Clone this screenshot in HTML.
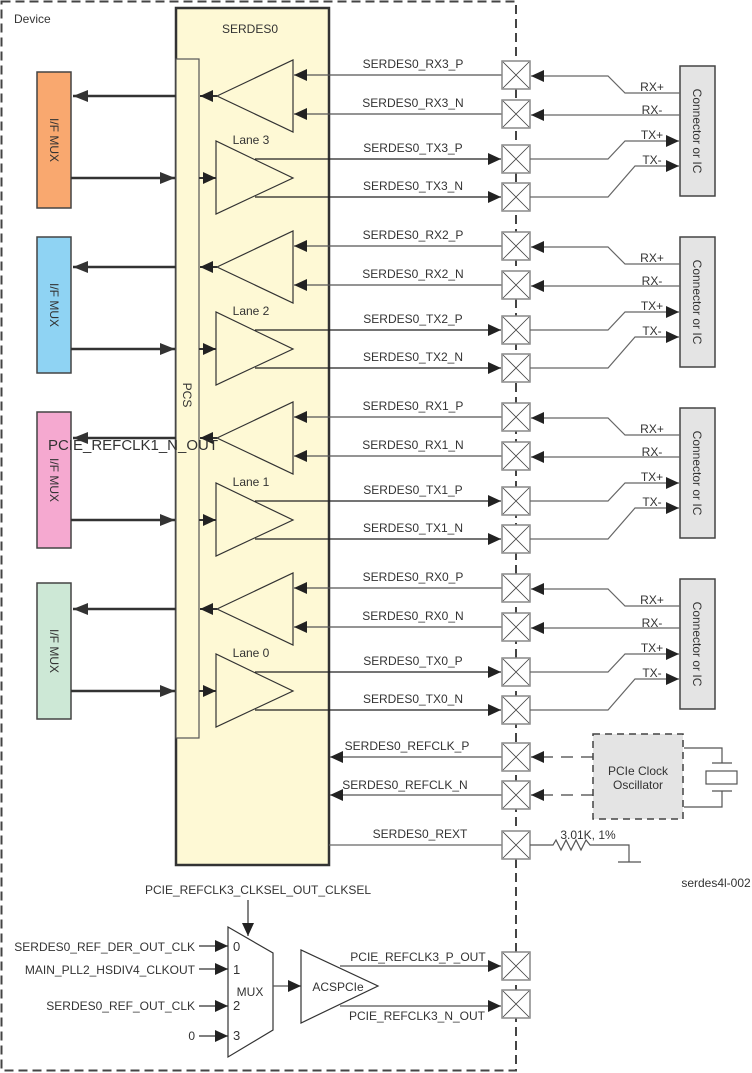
<!DOCTYPE html>
<html><head><meta charset="utf-8"><style>
html,body{margin:0;padding:0;background:#fff;}
svg{display:block;font-family:"Liberation Sans",sans-serif;}
</style></head><body>
<svg width="752" height="1073" viewBox="0 0 752 1073" xmlns="http://www.w3.org/2000/svg">
<defs>
<marker id="a" markerUnits="userSpaceOnUse" markerWidth="14" markerHeight="12" refX="13" refY="6" orient="auto"><path d="M0,0 L13,6 L0,12 z" fill="#222"/></marker>
<marker id="b" markerUnits="userSpaceOnUse" markerWidth="16" markerHeight="12" refX="15" refY="6" orient="auto"><path d="M0,0 L15,6 L0,12 z" fill="#333"/></marker>
<g id="pad"><rect x="-14" y="-14" width="28" height="28" fill="#fff" stroke="#888" stroke-width="1.5"/><path d="M-13,-13 L13,13 M13,-13 L-13,13" stroke="#444" stroke-width="0.8"/></g>
<g id="lane">
<line x1="176" y1="96" x2="73" y2="96" stroke="#333" stroke-width="2.5" marker-end="url(#b)"/>
<line x1="71" y1="178" x2="175" y2="178" stroke="#333" stroke-width="2.5" marker-end="url(#b)"/>
<line x1="217" y1="96" x2="200" y2="96" stroke="#333" stroke-width="2" marker-end="url(#a)"/>
<line x1="199" y1="178" x2="216" y2="178" stroke="#333" stroke-width="2" marker-end="url(#a)"/>
<polygon points="217,96 293,60 293,132" fill="#fef9d5" stroke="#333" stroke-width="1.2"/>
<polygon points="216,141 216,214 293,178" fill="#fef9d5" stroke="#333" stroke-width="1.2"/>
<line x1="502" y1="75" x2="294" y2="75" stroke="#555" stroke-width="1.2" marker-end="url(#a)"/>
<line x1="502" y1="114" x2="294" y2="114" stroke="#555" stroke-width="1.2" marker-end="url(#a)"/>
<line x1="255" y1="159" x2="501" y2="159" stroke="#222" stroke-width="1.2" marker-end="url(#a)"/>
<line x1="255" y1="197" x2="501" y2="197" stroke="#222" stroke-width="1.2" marker-end="url(#a)"/>
<use href="#pad" x="516" y="75"/><use href="#pad" x="516" y="114"/><use href="#pad" x="516" y="159"/><use href="#pad" x="516" y="197"/>
<rect x="680" y="66" width="35" height="130" fill="#e4e4e4" stroke="#444" stroke-width="1.5"/>
<polyline points="680,93 625,93 608,76 531,76" fill="none" stroke="#666" stroke-width="1.2" marker-end="url(#a)"/>
<line x1="680" y1="115" x2="531" y2="115" stroke="#666" stroke-width="1.2" marker-end="url(#a)"/>
<polyline points="530,159 608,159 625,141 679,141" fill="none" stroke="#666" stroke-width="1.2" marker-end="url(#a)"/>
<polyline points="530,197 608,197 635,166 679,166" fill="none" stroke="#666" stroke-width="1.2" marker-end="url(#a)"/>
</g>
</defs>
<!-- device -->
<rect x="1.5" y="1.5" width="514.5" height="1069" fill="none" stroke="#444" stroke-width="2" stroke-dasharray="9,5"/>
<text x="14" y="23" font-size="12" fill="#333">Device</text>
<!-- serdes -->
<rect x="176" y="8" width="153" height="857" fill="#fef9d5" stroke="#333" stroke-width="2.5"/>
<text x="250" y="33" font-size="12" fill="#333" text-anchor="middle">SERDES0</text>
<rect x="176" y="59" width="23" height="679" fill="#fef9d5" stroke="#555" stroke-width="1.2"/>
<text transform="translate(183,395) rotate(90)" font-size="12" fill="#333" text-anchor="middle">PCS</text>

<!-- MUX boxes -->
<rect x="37" y="72" width="34" height="136" fill="#f9a86f" stroke="#444" stroke-width="1.5"/>
<rect x="37" y="237" width="34" height="136" fill="#8fd3f3" stroke="#444" stroke-width="1.5"/>
<rect x="37" y="412" width="34" height="136" fill="#f5a9d0" stroke="#444" stroke-width="1.5"/>
<rect x="37" y="583" width="34" height="136" fill="#cde8d6" stroke="#444" stroke-width="1.5"/>

<use href="#lane" y="0"/>
<use href="#lane" y="171"/>
<use href="#lane" y="342"/>
<use href="#lane" y="513"/>

<g font-size="12" fill="#333" text-anchor="middle">
<text transform="translate(50,140) rotate(90)">I/F MUX</text>
<text transform="translate(50,305) rotate(90)">I/F MUX</text>
<text transform="translate(50,480) rotate(90)">I/F MUX</text>
<text transform="translate(50,651) rotate(90)">I/F MUX</text>
<text transform="translate(693,131) rotate(90)">Connector or IC</text>
<text transform="translate(693,302) rotate(90)">Connector or IC</text>
<text transform="translate(693,473) rotate(90)">Connector or IC</text>
<text transform="translate(693,644) rotate(90)">Connector or IC</text>

<text x="251" y="144">Lane 3</text>
<text x="413" y="68">SERDES0_RX3_P</text>
<text x="413" y="107">SERDES0_RX3_N</text>
<text x="413" y="152">SERDES0_TX3_P</text>
<text x="413" y="190">SERDES0_TX3_N</text>

<text x="251" y="315">Lane 2</text>
<text x="413" y="239">SERDES0_RX2_P</text>
<text x="413" y="278">SERDES0_RX2_N</text>
<text x="413" y="323">SERDES0_TX2_P</text>
<text x="413" y="361">SERDES0_TX2_N</text>

<text x="251" y="486">Lane 1</text>
<text x="413" y="410">SERDES0_RX1_P</text>
<text x="413" y="449">SERDES0_RX1_N</text>
<text x="413" y="494">SERDES0_TX1_P</text>
<text x="413" y="532">SERDES0_TX1_N</text>

<text x="251" y="657">Lane 0</text>
<text x="413" y="581">SERDES0_RX0_P</text>
<text x="413" y="620">SERDES0_RX0_N</text>
<text x="413" y="665">SERDES0_TX0_P</text>
<text x="413" y="703">SERDES0_TX0_N</text>
</g>
<g font-size="12" fill="#333" text-anchor="middle">
<text x="652" y="91">RX+</text><text x="652" y="114">RX-</text><text x="652" y="139">TX+</text><text x="652" y="164">TX-</text>
<text x="652" y="262">RX+</text><text x="652" y="285">RX-</text><text x="652" y="310">TX+</text><text x="652" y="335">TX-</text>
<text x="652" y="433">RX+</text><text x="652" y="456">RX-</text><text x="652" y="481">TX+</text><text x="652" y="506">TX-</text>
<text x="652" y="604">RX+</text><text x="652" y="627">RX-</text><text x="652" y="652">TX+</text><text x="652" y="677">TX-</text>
</g>

<text x="133" y="450" font-size="15" fill="#333" text-anchor="middle">PCIE_REFCLK1_N_OUT</text>

<!-- REFCLK -->
<line x1="502" y1="757" x2="330" y2="757" stroke="#555" stroke-width="1.2" marker-end="url(#a)"/>
<line x1="502" y1="795" x2="330" y2="795" stroke="#555" stroke-width="1.2" marker-end="url(#a)"/>
<line x1="329" y1="845" x2="502" y2="845" stroke="#666" stroke-width="1.2"/>
<use href="#pad" x="516" y="757"/><use href="#pad" x="516" y="795"/><use href="#pad" x="516" y="845"/>
<text x="407" y="750" font-size="12" fill="#333" text-anchor="middle">SERDES0_REFCLK_P</text>
<text x="405" y="789" font-size="12" fill="#333" text-anchor="middle">SERDES0_REFCLK_N</text>
<text x="420" y="838" font-size="12" fill="#333" text-anchor="middle">SERDES0_REXT</text>
<rect x="593" y="734" width="90" height="85" fill="#e4e4e4" stroke="#444" stroke-width="1.5" stroke-dasharray="7,5"/>
<text x="638" y="775" font-size="12" fill="#333" text-anchor="middle">PCIe Clock</text>
<text x="638" y="789" font-size="12" fill="#333" text-anchor="middle">Oscillator</text>
<line x1="593" y1="757" x2="531" y2="757" stroke="#444" stroke-width="1.2" stroke-dasharray="12,8" marker-end="url(#a)"/>
<line x1="593" y1="795" x2="531" y2="795" stroke="#444" stroke-width="1.2" stroke-dasharray="12,8" marker-end="url(#a)"/>
<polyline points="684,748 722,748 722,763" fill="none" stroke="#555" stroke-width="1.2"/>
<polyline points="684,807 722,807 722,791" fill="none" stroke="#555" stroke-width="1.2"/>
<line x1="712" y1="763" x2="732" y2="763" stroke="#555" stroke-width="1.2"/>
<line x1="712" y1="791" x2="732" y2="791" stroke="#555" stroke-width="1.2"/>
<rect x="706" y="771" width="31" height="13" fill="#fff" stroke="#555" stroke-width="1.2"/>
<polyline points="530,845 553,845 556,840 561,850 566,840 571,850 576,840 581,850 586,840 590,845 629,845 629,862" fill="none" stroke="#555" stroke-width="1.2"/>
<line x1="618" y1="862" x2="641" y2="862" stroke="#555" stroke-width="1.2"/>
<text x="588" y="839" font-size="12" fill="#333" text-anchor="middle">3.01K, 1%</text>
<text x="716" y="887" font-size="12" fill="#333" text-anchor="middle">serdes4l-002</text>

<!-- bottom mux -->
<text x="258" y="894" font-size="12" fill="#333" text-anchor="middle">PCIE_REFCLK3_CLKSEL_OUT_CLKSEL</text>
<line x1="248" y1="900" x2="248" y2="936" stroke="#333" stroke-width="1.2" marker-end="url(#a)"/>
<polygon points="228,927 273,953 273,1030 228,1057" fill="#fff" stroke="#333" stroke-width="1.2"/>
<g font-size="12" fill="#333">
<text x="195" y="951" text-anchor="end">SERDES0_REF_DER_OUT_CLK</text>
<text x="195" y="974" text-anchor="end">MAIN_PLL2_HSDIV4_CLKOUT</text>
<text x="195" y="1010" text-anchor="end">SERDES0_REF_OUT_CLK</text>
<text x="195" y="1040" text-anchor="end">0</text>
<text x="233" y="951" font-size="13">0</text>
<text x="233" y="974" font-size="13">1</text>
<text x="233" y="1010" font-size="13">2</text>
<text x="233" y="1040" font-size="13">3</text>
<text x="250" y="996" text-anchor="middle">MUX</text>
</g>
<line x1="199" y1="946" x2="228" y2="946" stroke="#333" stroke-width="1.2" marker-end="url(#a)"/>
<line x1="199" y1="969" x2="228" y2="969" stroke="#333" stroke-width="1.2" marker-end="url(#a)"/>
<line x1="199" y1="1006" x2="228" y2="1006" stroke="#333" stroke-width="1.2" marker-end="url(#a)"/>
<line x1="199" y1="1036" x2="228" y2="1036" stroke="#333" stroke-width="1.2" marker-end="url(#a)"/>
<line x1="273" y1="986" x2="301" y2="986" stroke="#555" stroke-width="1.2" marker-end="url(#a)"/>
<polygon points="301,950 301,1023 378,986" fill="#fff" stroke="#333" stroke-width="1.2"/>
<text x="338" y="991" font-size="12" fill="#333" text-anchor="middle">ACSPCIe</text>
<line x1="340" y1="966" x2="501" y2="966" stroke="#555" stroke-width="1.2" marker-end="url(#a)"/>
<line x1="340" y1="1006" x2="501" y2="1006" stroke="#555" stroke-width="1.2" marker-end="url(#a)"/>
<use href="#pad" x="516" y="966"/><use href="#pad" x="516" y="1004"/>
<text x="418" y="961" font-size="12" fill="#333" text-anchor="middle">PCIE_REFCLK3_P_OUT</text>
<text x="417" y="1020" font-size="12" fill="#333" text-anchor="middle">PCIE_REFCLK3_N_OUT</text>
</svg>
</body></html>
